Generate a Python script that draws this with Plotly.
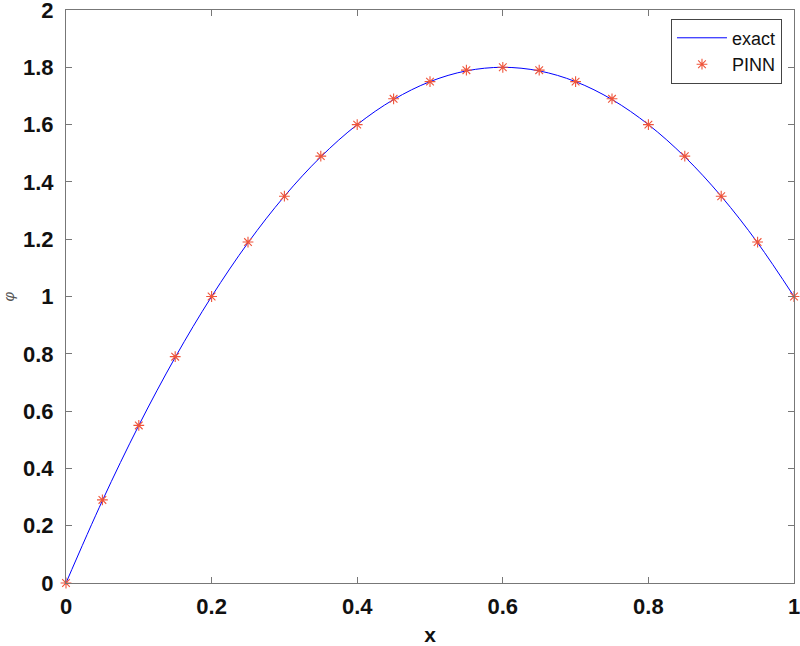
import plotly.graph_objects as go

x_vals = [0.0, 0.05, 0.1, 0.15, 0.2, 0.25, 0.3, 0.35, 0.4, 0.45, 0.5,
          0.55, 0.6, 0.65, 0.7, 0.75, 0.8, 0.85, 0.9, 0.95, 1.0]
exact_vals = [0.0, 0.2875, 0.55, 0.7875, 1.0, 1.1875, 1.35, 1.4875, 1.6, 1.6875, 1.75,
              1.7875, 1.8, 1.7875, 1.75, 1.6875, 1.6, 1.4875, 1.35, 1.1875, 1.0]
pinn_vals = [0.0, 0.29, 0.55, 0.79, 1.0, 1.19, 1.35, 1.49, 1.6, 1.69, 1.75,
             1.79, 1.8, 1.79, 1.75, 1.69, 1.6, 1.49, 1.35, 1.19, 1.0]
x_ticks = [0, 0.2, 0.4, 0.6, 0.8, 1]
x_ticklabels = ["0", "0.2", "0.4", "0.6", "0.8", "1"]
y_ticks = [0, 0.2, 0.4, 0.6, 0.8, 1, 1.2, 1.4, 1.6, 1.8, 2]
y_ticklabels = ["0", "0.2", "0.4", "0.6", "0.8", "1", "1.2", "1.4", "1.6", "1.8", "2"]

fig = go.Figure()
fig.add_trace(go.Scatter(x=x_vals, y=exact_vals, mode="lines", name="exact",
                         line=dict(color="#0000ff", width=1, shape="spline"),
                         cliponaxis=False))
fig.add_trace(go.Scatter(x=x_vals, y=pinn_vals, mode="markers", name="PINN",
                         marker=dict(symbol="asterisk-open", size=9,
                                     line=dict(color="#ff0000", width=1.1)),
                         cliponaxis=False))

tick_font = dict(family="Liberation Sans, Arial", size=22, color="#111111", weight="bold")
axis_common = dict(showgrid=False, zeroline=False, showline=True, linecolor="#777777",
                   linewidth=1, mirror="ticks", ticks="inside", ticklen=6,
                   tickcolor="#777777", tickfont=tick_font,
                   ticklabeloverflow="allow", automargin=False)

fig.update_layout(
    width=800, height=646,
    margin=dict(l=66, r=6, t=10, b=63),
    paper_bgcolor="white", plot_bgcolor="white",
    font=dict(family="Liberation Sans, Arial", color="#111111"),
    showlegend=True,
    legend=dict(x=0.9835, y=0.985, xanchor="right", yanchor="top",
                bgcolor="white", bordercolor="#444444", borderwidth=1,
                font=dict(size=18, family="Liberation Sans, Arial", color="#111111"),
                itemwidth=50, tracegroupgap=0),
    xaxis=dict(range=[0, 1], tickvals=x_ticks, ticktext=x_ticklabels,
               ticklabelstandoff=4,
               title=dict(text="<b>x</b>", font=dict(size=21), standoff=8),
               **axis_common),
    yaxis=dict(range=[0, 2], tickvals=y_ticks, ticktext=y_ticklabels,
               ticklabelstandoff=7,
               title=dict(text="<i>φ</i>", font=dict(size=15, color="#555555"), standoff=12),
               **axis_common),
)

fig.write_html("out.html", config={"displayModeBar": False},
               post_script="document.body.style.margin='0';")
